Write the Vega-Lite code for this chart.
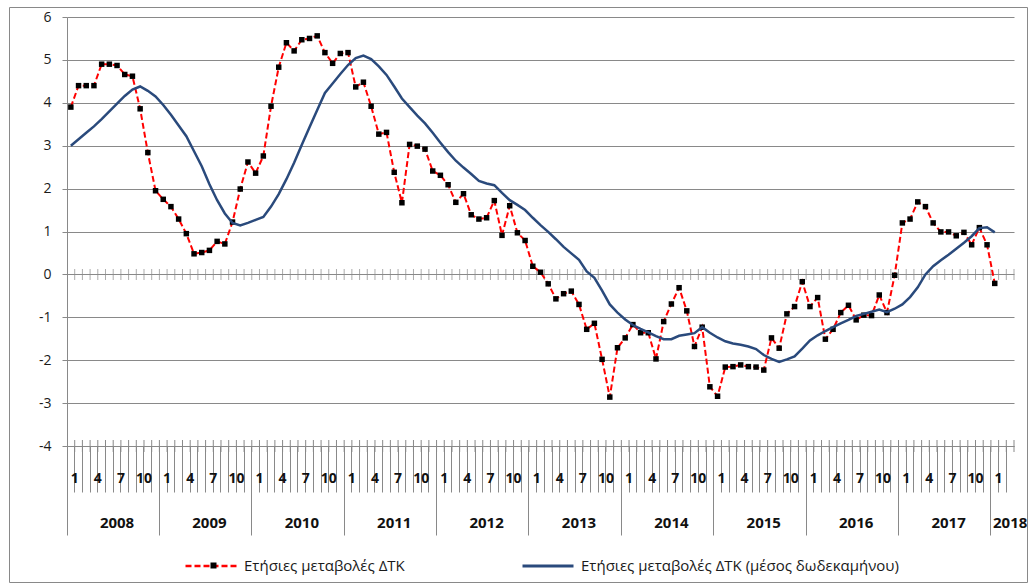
{
  "$schema": "https://vega.github.io/schema/vega-lite/v6.json",
  "width": 947,
  "height": 429,
  "autosize": {"type": "none"},
  "padding": {"left": 67, "top": 17, "right": 18, "bottom": 142},
  "background": "white",
  "config": {
    "view": {"stroke": null},
    "font": "Open Sans",
    "axis": {"domainColor": "#898989", "tickColor": "#898989", "gridColor": "#898989", "labelFont": "Open Sans"},
    "legend": {"labelFont": "Open Sans", "labelFontSize": 15, "labelColor": "#1a1a1a", "padding": 0, "labelOffset": 6, "labelLimit": 600}
  },
  "datasets": {
    "months": [
      {"m":"2008-01"},{"m":"2008-02"},{"m":"2008-03"},{"m":"2008-04"},{"m":"2008-05"},{"m":"2008-06"},{"m":"2008-07"},{"m":"2008-08"},{"m":"2008-09"},{"m":"2008-10"},{"m":"2008-11"},{"m":"2008-12"},
      {"m":"2009-01"},{"m":"2009-02"},{"m":"2009-03"},{"m":"2009-04"},{"m":"2009-05"},{"m":"2009-06"},{"m":"2009-07"},{"m":"2009-08"},{"m":"2009-09"},{"m":"2009-10"},{"m":"2009-11"},{"m":"2009-12"},
      {"m":"2010-01"},{"m":"2010-02"},{"m":"2010-03"},{"m":"2010-04"},{"m":"2010-05"},{"m":"2010-06"},{"m":"2010-07"},{"m":"2010-08"},{"m":"2010-09"},{"m":"2010-10"},{"m":"2010-11"},{"m":"2010-12"},
      {"m":"2011-01"},{"m":"2011-02"},{"m":"2011-03"},{"m":"2011-04"},{"m":"2011-05"},{"m":"2011-06"},{"m":"2011-07"},{"m":"2011-08"},{"m":"2011-09"},{"m":"2011-10"},{"m":"2011-11"},{"m":"2011-12"},
      {"m":"2012-01"},{"m":"2012-02"},{"m":"2012-03"},{"m":"2012-04"},{"m":"2012-05"},{"m":"2012-06"},{"m":"2012-07"},{"m":"2012-08"},{"m":"2012-09"},{"m":"2012-10"},{"m":"2012-11"},{"m":"2012-12"},
      {"m":"2013-01"},{"m":"2013-02"},{"m":"2013-03"},{"m":"2013-04"},{"m":"2013-05"},{"m":"2013-06"},{"m":"2013-07"},{"m":"2013-08"},{"m":"2013-09"},{"m":"2013-10"},{"m":"2013-11"},{"m":"2013-12"},
      {"m":"2014-01"},{"m":"2014-02"},{"m":"2014-03"},{"m":"2014-04"},{"m":"2014-05"},{"m":"2014-06"},{"m":"2014-07"},{"m":"2014-08"},{"m":"2014-09"},{"m":"2014-10"},{"m":"2014-11"},{"m":"2014-12"},
      {"m":"2015-01"},{"m":"2015-02"},{"m":"2015-03"},{"m":"2015-04"},{"m":"2015-05"},{"m":"2015-06"},{"m":"2015-07"},{"m":"2015-08"},{"m":"2015-09"},{"m":"2015-10"},{"m":"2015-11"},{"m":"2015-12"},
      {"m":"2016-01"},{"m":"2016-02"},{"m":"2016-03"},{"m":"2016-04"},{"m":"2016-05"},{"m":"2016-06"},{"m":"2016-07"},{"m":"2016-08"},{"m":"2016-09"},{"m":"2016-10"},{"m":"2016-11"},{"m":"2016-12"},
      {"m":"2017-01"},{"m":"2017-02"},{"m":"2017-03"},{"m":"2017-04"},{"m":"2017-05"},{"m":"2017-06"},{"m":"2017-07"},{"m":"2017-08"},{"m":"2017-09"},{"m":"2017-10"},{"m":"2017-11"},{"m":"2017-12"},
      {"m":"2018-01"},{"m":"2018-02"},{"m":"2018-03"}
    ],
    "cpi": [
      {"m":"2008-01","cpi":3.9,"avg":3.0},{"m":"2008-02","cpi":4.4,"avg":3.15},{"m":"2008-03","cpi":4.4,"avg":3.3},{"m":"2008-04","cpi":4.4,"avg":3.45},{"m":"2008-05","cpi":4.9,"avg":3.62},{"m":"2008-06","cpi":4.9,"avg":3.8},{"m":"2008-07","cpi":4.87,"avg":3.98},{"m":"2008-08","cpi":4.66,"avg":4.16},{"m":"2008-09","cpi":4.62,"avg":4.31},{"m":"2008-10","cpi":3.86,"avg":4.38},{"m":"2008-11","cpi":2.84,"avg":4.28},{"m":"2008-12","cpi":1.95,"avg":4.15},
      {"m":"2009-01","cpi":1.75,"avg":3.95},{"m":"2009-02","cpi":1.58,"avg":3.72},{"m":"2009-03","cpi":1.29,"avg":3.47},{"m":"2009-04","cpi":0.95,"avg":3.22},{"m":"2009-05","cpi":0.48,"avg":2.87},{"m":"2009-06","cpi":0.51,"avg":2.52},{"m":"2009-07","cpi":0.56,"avg":2.1},{"m":"2009-08","cpi":0.77,"avg":1.73},{"m":"2009-09","cpi":0.71,"avg":1.42},{"m":"2009-10","cpi":1.22,"avg":1.2},{"m":"2009-11","cpi":1.99,"avg":1.14},{"m":"2009-12","cpi":2.62,"avg":1.2},
      {"m":"2010-01","cpi":2.36,"avg":1.27},{"m":"2010-02","cpi":2.76,"avg":1.34},{"m":"2010-03","cpi":3.92,"avg":1.58},{"m":"2010-04","cpi":4.83,"avg":1.87},{"m":"2010-05","cpi":5.4,"avg":2.22},{"m":"2010-06","cpi":5.21,"avg":2.6},{"m":"2010-07","cpi":5.47,"avg":3.02},{"m":"2010-08","cpi":5.5,"avg":3.43},{"m":"2010-09","cpi":5.56,"avg":3.83},{"m":"2010-10","cpi":5.17,"avg":4.23},{"m":"2010-11","cpi":4.92,"avg":4.45},{"m":"2010-12","cpi":5.15,"avg":4.67},
      {"m":"2011-01","cpi":5.17,"avg":4.88},{"m":"2011-02","cpi":4.37,"avg":5.04},{"m":"2011-03","cpi":4.48,"avg":5.1},{"m":"2011-04","cpi":3.92,"avg":5.02},{"m":"2011-05","cpi":3.27,"avg":4.85},{"m":"2011-06","cpi":3.31,"avg":4.65},{"m":"2011-07","cpi":2.38,"avg":4.38},{"m":"2011-08","cpi":1.67,"avg":4.1},{"m":"2011-09","cpi":3.03,"avg":3.9},{"m":"2011-10","cpi":2.99,"avg":3.7},{"m":"2011-11","cpi":2.92,"avg":3.52},{"m":"2011-12","cpi":2.41,"avg":3.3},
      {"m":"2012-01","cpi":2.31,"avg":3.07},{"m":"2012-02","cpi":2.09,"avg":2.85},{"m":"2012-03","cpi":1.68,"avg":2.65},{"m":"2012-04","cpi":1.88,"avg":2.49},{"m":"2012-05","cpi":1.39,"avg":2.34},{"m":"2012-06","cpi":1.29,"avg":2.18},{"m":"2012-07","cpi":1.32,"avg":2.12},{"m":"2012-08","cpi":1.72,"avg":2.08},{"m":"2012-09","cpi":0.91,"avg":1.9},{"m":"2012-10","cpi":1.6,"avg":1.73},{"m":"2012-11","cpi":0.97,"avg":1.62},{"m":"2012-12","cpi":0.79,"avg":1.5},
      {"m":"2013-01","cpi":0.19,"avg":1.32},{"m":"2013-02","cpi":0.05,"avg":1.15},{"m":"2013-03","cpi":-0.22,"avg":0.99},{"m":"2013-04","cpi":-0.57,"avg":0.82},{"m":"2013-05","cpi":-0.45,"avg":0.64},{"m":"2013-06","cpi":-0.39,"avg":0.49},{"m":"2013-07","cpi":-0.7,"avg":0.34},{"m":"2013-08","cpi":-1.28,"avg":0.07},{"m":"2013-09","cpi":-1.14,"avg":-0.08},{"m":"2013-10","cpi":-1.98,"avg":-0.38},{"m":"2013-11","cpi":-2.86,"avg":-0.7},{"m":"2013-12","cpi":-1.71,"avg":-0.89},
      {"m":"2014-01","cpi":-1.48,"avg":-1.05},{"m":"2014-02","cpi":-1.17,"avg":-1.18},{"m":"2014-03","cpi":-1.36,"avg":-1.27},{"m":"2014-04","cpi":-1.36,"avg":-1.35},{"m":"2014-05","cpi":-1.97,"avg":-1.44},{"m":"2014-06","cpi":-1.1,"avg":-1.51},{"m":"2014-07","cpi":-0.69,"avg":-1.51},{"m":"2014-08","cpi":-0.31,"avg":-1.43},{"m":"2014-09","cpi":-0.85,"avg":-1.4},{"m":"2014-10","cpi":-1.68,"avg":-1.37},{"m":"2014-11","cpi":-1.23,"avg":-1.23},{"m":"2014-12","cpi":-2.62,"avg":-1.36},
      {"m":"2015-01","cpi":-2.84,"avg":-1.47},{"m":"2015-02","cpi":-2.16,"avg":-1.56},{"m":"2015-03","cpi":-2.15,"avg":-1.61},{"m":"2015-04","cpi":-2.11,"avg":-1.64},{"m":"2015-05","cpi":-2.15,"avg":-1.68},{"m":"2015-06","cpi":-2.16,"avg":-1.74},{"m":"2015-07","cpi":-2.23,"avg":-1.88},{"m":"2015-08","cpi":-1.48,"avg":-1.97},{"m":"2015-09","cpi":-1.72,"avg":-2.04},{"m":"2015-10","cpi":-0.92,"avg":-1.98},{"m":"2015-11","cpi":-0.75,"avg":-1.91},{"m":"2015-12","cpi":-0.17,"avg":-1.73},
      {"m":"2016-01","cpi":-0.75,"avg":-1.54},{"m":"2016-02","cpi":-0.54,"avg":-1.42},{"m":"2016-03","cpi":-1.51,"avg":-1.32},{"m":"2016-04","cpi":-1.28,"avg":-1.23},{"m":"2016-05","cpi":-0.89,"avg":-1.14},{"m":"2016-06","cpi":-0.72,"avg":-1.06},{"m":"2016-07","cpi":-1.06,"avg":-0.97},{"m":"2016-08","cpi":-0.95,"avg":-0.92},{"m":"2016-09","cpi":-0.96,"avg":-0.87},{"m":"2016-10","cpi":-0.48,"avg":-0.82},{"m":"2016-11","cpi":-0.89,"avg":-0.88},{"m":"2016-12","cpi":-0.02,"avg":-0.8},
      {"m":"2017-01","cpi":1.2,"avg":-0.7},{"m":"2017-02","cpi":1.29,"avg":-0.53},{"m":"2017-03","cpi":1.69,"avg":-0.3},{"m":"2017-04","cpi":1.58,"avg":0.0},{"m":"2017-05","cpi":1.2,"avg":0.19},{"m":"2017-06","cpi":0.99,"avg":0.33},{"m":"2017-07","cpi":0.99,"avg":0.46},{"m":"2017-08","cpi":0.9,"avg":0.6},{"m":"2017-09","cpi":0.98,"avg":0.74},{"m":"2017-10","cpi":0.69,"avg":0.89},{"m":"2017-11","cpi":1.09,"avg":1.08},{"m":"2017-12","cpi":0.69,"avg":1.1},
      {"m":"2018-01","cpi":-0.21,"avg":0.98}
    ]
  },
  "layer": [
    {
      "data": {"name": "months"},
      "mark": {"type": "tick", "orient": "vertical", "size": 11, "thickness": 1, "color": "#898989"},
      "encoding": {
        "x": {
          "field": "m", "type": "ordinal", "bandPosition": 1,
          "scale": {"type": "band", "paddingInner": 0, "paddingOuter": 0},
          "axis": {
            "title": null,
            "bandPosition": 0,
            "domain": true,
            "ticks": true,
            "tickWidth": 1,
            "tickSize": {"condition": {"test": "slice(datum.value,5)=='01'", "value": 89}, "value": 46},
            "labelExpr": "slice(datum.value,5)=='06' ? slice(datum.value,0,4) : (datum.value=='2018-02' ? '2018' : (indexof(['01','04','07','10'], slice(datum.value,5)) >= 0 ? '' + toNumber(slice(datum.value,5)) : ''))",
            "labelOffset": {"condition": {"test": "slice(datum.value,5)=='06' || datum.value=='2018-02'", "value": 7.7}, "value": 3.85},
            "labelPadding": {"condition": [
              {"test": "slice(datum.value,5)=='01'", "value": -64},
              {"test": "slice(datum.value,5)=='06' || datum.value=='2018-02'", "value": 23}
            ], "value": -21},
            "labelFontSize": {"condition": {"test": "slice(datum.value,5)=='06' || datum.value=='2018-02'", "value": 15}, "value": 14},
            "labelFontWeight": "bold",
            "labelColor": "#111111",
            "labelAngle": 0,
            "labelAlign": "center",
            "labelBaseline": "top",
            "labelOverlap": false,
            "labelBound": false,
            "labelFlush": false
          }
        },
        "y": {
          "datum": 0, "type": "quantitative",
          "scale": {"domain": [-4, 6], "nice": false, "zero": false},
          "axis": {"title": null, "values": [-4, -3, -2, -1, 0, 1, 2, 3, 4, 5, 6], "labelExpr": "'' + datum.value", "grid": true, "gridWidth": 1, "tickSize": 5, "labelPadding": 11, "labelFontSize": 14, "labelColor": "#1a1a1a", "domain": true}
        }
      }
    },
    {
      "data": {"name": "months"},
      "mark": {"type": "tick", "orient": "vertical", "size": 12, "thickness": 1, "color": "#898989"},
      "encoding": {
        "x": {"field": "m", "type": "ordinal", "bandPosition": 1, "scale": {"type": "band", "paddingInner": 0, "paddingOuter": 0}, "axis": {"title": null}},
        "y": {"datum": -4, "type": "quantitative", "scale": {"domain": [-4, 6], "nice": false, "zero": false}, "axis": {"title": null}},
        "opacity": {
          "datum": "frame",
          "scale": {"range": [1]},
          "legend": {"title": null, "orient": "none", "legendX": -58, "legendY": -10, "padding": 287, "strokeColor": "#898989", "symbolType": "M0,0L0,0", "symbolSize": 1, "symbolStrokeWidth": 0, "symbolFillColor": "transparent", "symbolStrokeColor": "transparent", "labelColor": "transparent", "labelExpr": "' '", "labelFontSize": 1, "labelOffset": 443}
        }
      }
    },
    {
      "data": {"name": "cpi"},
      "mark": {"type": "line", "strokeWidth": 2, "strokeDash": [6, 3]},
      "encoding": {
        "x": {"field": "m", "type": "ordinal", "scale": {"type": "band", "paddingInner": 0, "paddingOuter": 0}, "axis": {"title": null}},
        "y": {"field": "cpi", "type": "quantitative", "scale": {"domain": [-4, 6], "nice": false, "zero": false}, "axis": {"title": null}},
        "color": {
          "datum": "Ετήσιες μεταβολές ΔΤΚ",
          "scale": {"range": ["#ff0000"]},
          "legend": {"title": null, "orient": "none", "legendX": 117, "legendY": 522, "symbolType": "stroke", "symbolSize": 2601, "symbolDash": [6, 3], "symbolStrokeWidth": 2.5}
        }
      }
    },
    {
      "data": {"name": "cpi"},
      "mark": {"type": "point", "shape": "square", "filled": true, "color": "#000000", "size": 30, "opacity": 1},
      "encoding": {
        "x": {"field": "m", "type": "ordinal", "scale": {"type": "band", "paddingInner": 0, "paddingOuter": 0}, "axis": {"title": null}},
        "y": {"field": "cpi", "type": "quantitative", "scale": {"domain": [-4, 6], "nice": false, "zero": false}, "axis": {"title": null}},
        "shape": {
          "datum": "marker",
          "scale": {"range": ["square"]},
          "legend": {"title": null, "orient": "none", "legendX": 139, "legendY": 541, "symbolSize": 36, "symbolFillColor": "#000000", "symbolStrokeColor": "#000000", "labelExpr": "' '"}
        }
      }
    },
    {
      "data": {"name": "cpi"},
      "mark": {"type": "line", "strokeWidth": 2.5},
      "encoding": {
        "x": {"field": "m", "type": "ordinal", "scale": {"type": "band", "paddingInner": 0, "paddingOuter": 0}, "axis": {"title": null}},
        "y": {"field": "avg", "type": "quantitative", "scale": {"domain": [-4, 6], "nice": false, "zero": false}, "axis": {"title": null}},
        "stroke": {
          "datum": "Ετήσιες μεταβολές ΔΤΚ (μέσος δωδεκαμήνου)",
          "scale": {"range": ["#2a4a7c"]},
          "legend": {"title": null, "orient": "none", "legendX": 454, "legendY": 522, "symbolType": "stroke", "symbolSize": 2601, "symbolStrokeWidth": 3}
        }
      }
    }
  ]
}
